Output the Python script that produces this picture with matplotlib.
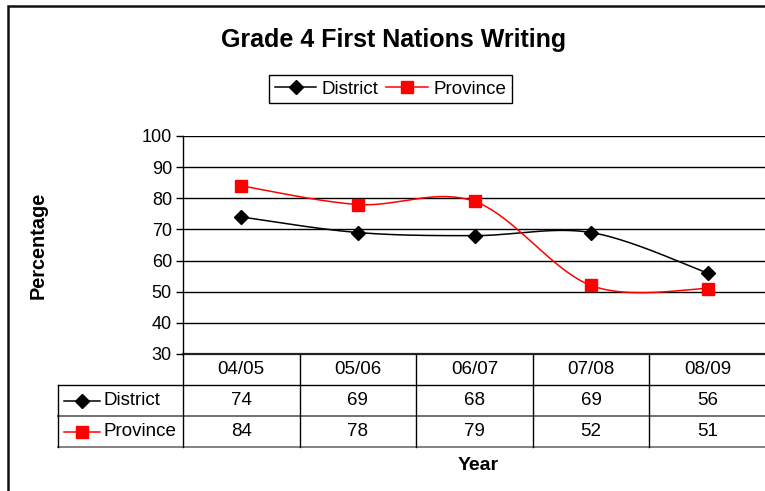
import numpy as np
import matplotlib
matplotlib.use("Agg")
import matplotlib.pyplot as plt
from matplotlib.lines import Line2D
from matplotlib.patches import Rectangle
import matplotlib.transforms as mtransforms

plt.rcParams['font.family'] = ['Liberation Sans', 'DejaVu Sans']

years = ["04/05", "05/06", "06/07", "07/08", "08/09"]
district = [74, 69, 68, 69, 56]
province = [84, 78, 79, 52, 51]
series_names = ["District", "Province"]

W, H = 765, 491
fig = plt.figure(figsize=(W / 100, H / 100), dpi=100)

def px(x0, y0, x1, y1):
    return [x0 / W, 1 - y1 / H, (x1 - x0) / W, (y1 - y0) / H]

ax = fig.add_axes(px(183, 136, 766, 354))

def smooth(y, n=40):
    y = np.asarray(y, float)
    x = np.arange(len(y), dtype=float)
    P = np.column_stack([x, y])
    out = []
    m = len(P)
    for i in range(m - 1):
        p0 = P[i]
        p3 = P[i + 1]
        pm = P[i - 1] if i > 0 else P[i]
        pp = P[i + 2] if i + 2 < m else P[i + 1]
        c1 = p0 + (p3 - pm) / 6
        c2 = p3 - (pp - p0) / 6
        t = np.linspace(0, 1, n)[:, None]
        seg = (1 - t) ** 3 * p0 + 3 * (1 - t) ** 2 * t * c1 + 3 * (1 - t) * t ** 2 * c2 + t ** 3 * p3
        out.append(seg if i == 0 else seg[1:])
    s = np.vstack(out)
    return s[:, 0], s[:, 1]

styles = [
    dict(color="black", marker="D", ms=7.5, mfc="black", mec="black"),
    dict(color="#ff0000", marker="s", ms=8.5, mfc="#ff0000", mec="#ff0000"),
]
TFS = 13.5
xs = np.arange(len(years))
for vals, st in zip([district, province], styles):
    sx, sy = smooth(vals)
    ax.plot(sx, sy, color=st["color"], lw=1.1, zorder=3)
    ax.plot(xs, vals, ls="none", marker=st["marker"], ms=st["ms"],
            mfc=st["mfc"], mec=st["mec"], zorder=4)

ax.set_xlim(-0.5, len(years) - 0.5)
ax.set_ylim(30, 100)
ax.set_yticks(range(30, 101, 10))
ax.tick_params(axis="y", labelsize=13, length=5, width=1, direction="out", pad=3)
ax.set_xticks([])
for yv in range(40, 101, 10):
    ax.axhline(yv, color="black", lw=1.0, zorder=1)
for sp in ["top", "right"]:
    ax.spines[sp].set_visible(False)
ax.spines["left"].set_linewidth(1.0)
ax.spines["bottom"].set_linewidth(1.6)
ax.spines["bottom"].set_color("#222222")

# Data table
trans = mtransforms.blended_transform_factory(ax.transData, ax.transAxes)
def yfrac(ypix):
    return (354 - ypix) / (354 - 136)

for i, lab in enumerate(years):
    ax.text(i, yfrac(369.5), lab, transform=trans, ha="center", va="center",
            fontsize=TFS, clip_on=False)
for r, (vals, yc) in enumerate(zip([district, province], [400.5, 431.5])):
    for i, v in enumerate(vals):
        ax.text(i, yfrac(yc), str(v), transform=trans, ha="center", va="center",
                fontsize=TFS, clip_on=False)

def fline(x0, y0, x1, y1, color="black", lw=1.0):
    fig.add_artist(Line2D([x0 / W, x1 / W], [1 - y0 / H, 1 - y1 / H],
                          color=color, lw=lw, transform=fig.transFigure))

fline(58, 385, 766, 385)
fline(58, 416, 766, 416, color="#666666", lw=1.3)
fline(58, 447, 766, 447, color="#777777", lw=1.3)
fline(58, 385, 58, 447)
colw = (766 - 183) / len(years)
for k in range(len(years) + 1):
    xk = 183 + k * colw
    fline(xk, 354, xk, 447)

for name, st, yc in zip(series_names, styles, [400.5, 431.5]):
    fline(64, yc, 100, yc, color=st["color"], lw=1.1)
    fig.add_artist(Line2D([82 / W], [1 - yc / H], ls="none", marker=st["marker"],
                          ms=st["ms"] - 0.5, mfc=st["mfc"], mec=st["mec"],
                          transform=fig.transFigure))
    fig.text(104 / W, 1 - yc / H, name, ha="left", va="center", fontsize=TFS)

fig.text(478 / W, 1 - 465 / H, "Year", ha="center", va="center",
         fontsize=14, fontweight="bold")
fig.text(38 / W, 1 - 245 / H, "Percentage", ha="center", va="center",
         fontsize=14.3, fontweight="bold", rotation=90)
fig.text(394 / W, 1 - 40 / H, "Grade 4 First Nations Writing", ha="center",
         va="center", fontsize=18, fontweight="bold")

handles = [Line2D([], [], color=st["color"], lw=1.1, marker=st["marker"],
                  ms=st["ms"] - 0.5, mfc=st["mfc"], mec=st["mec"]) for st in styles]
leg = fig.legend(handles, series_names, loc="center", bbox_to_anchor=(390.5 / W, 1 - 89 / H),
                 ncol=2, frameon=True, fancybox=False, framealpha=1, edgecolor="black",
                 fontsize=TFS, handlelength=2.2, handletextpad=0.3, columnspacing=0.4,
                 borderpad=0.3, borderaxespad=0)
leg.get_frame().set_linewidth(1.0)

fig.add_artist(Rectangle((8 / W, -0.2), 1.2, 1 - 6 / H + 0.2, fill=False,
                         edgecolor="#111111", lw=1.8, transform=fig.transFigure))

fig.savefig("out.png", dpi=100, facecolor="white")
